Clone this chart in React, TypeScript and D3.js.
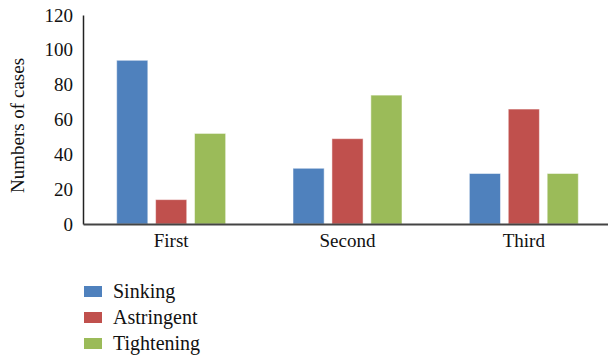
import React, { useEffect, useRef } from 'react';
import * as d3 from 'd3';

const categories = ["First", "Second", "Third"];
const seriesNames = ["Sinking", "Astringent", "Tightening"];
const sinking = [94, 32, 29];
const astringent = [14, 49, 66];
const tightening = [52, 74, 29];
const yTicks = [0, 20, 40, 60, 80, 100, 120];
const colors = ["#4F81BD", "#C0504D", "#9BBB59"];

const App = () => {
    const svgRef = useRef<SVGSVGElement>(null);

    useEffect(() => {
        document.body.style.margin = "0";
        const svg = d3.select(svgRef.current);
        svg.selectAll("*").remove();

        const width = 608;
        const height = 360;
        const marginLeft = 83;
        const marginTop = 15;
        const baseline = 224;
        const font = "Liberation Serif, DejaVu Serif, serif";

        const values = [sinking, astringent, tightening];
        const data = categories.map((c, i) => ({
            category: c,
            vals: seriesNames.map((s, j) => ({ series: s, value: values[j][i], color: colors[j] }))
        }));

        const x0 = d3.scaleBand(categories, [marginLeft, 612]).paddingInner(0.382).paddingOuter(0.191);
        const x1 = d3.scaleBand(seriesNames, [0, x0.bandwidth()]).paddingInner(0.2);
        const y = d3.scaleLinear([0, 120], [baseline, marginTop]);

        svg.attr("width", width)
            .attr("height", height)
            .attr("viewBox", [0, 0, width, height])
            .style("display", "block");

        // bars
        svg.append("g")
            .selectAll("g")
            .data(data)
            .join("g")
            .attr("transform", d => `translate(${x0(d.category)},0)`)
            .selectAll("rect")
            .data(d => d.vals)
            .join("rect")
            .attr("x", d => x1(d.series)!)
            .attr("y", d => y(d.value))
            .attr("width", x1.bandwidth())
            .attr("height", d => baseline - y(d.value))
            .attr("fill", d => d.color)
            .attr("stroke", "#fff")
            .attr("stroke-opacity", 0.5)
            .attr("stroke-width", 1);

        // y axis
        svg.append("g")
            .attr("transform", `translate(${marginLeft},0)`)
            .call(d3.axisLeft(y).tickValues(yTicks).tickSize(0).tickPadding(10))
            .attr("font-family", null)
            .call(g => g.select(".domain").attr("stroke", "#222").attr("stroke-width", 1.5))
            .call(g => g.selectAll(".tick text")
                .style("font-family", font)
                .style("font-size", "19px")
                .attr("fill", "#111"));

        // x axis
        svg.append("g")
            .attr("transform", `translate(0,${baseline})`)
            .call(d3.axisBottom(x0).tickSize(0).tickPadding(10))
            .attr("font-family", null)
            .call(g => g.select(".domain").attr("stroke", "#444").attr("stroke-width", 2))
            .call(g => g.selectAll(".tick text")
                .style("font-family", font)
                .style("font-size", "19px")
                .attr("fill", "#111"));

        svg.append("text")
            .attr("transform", `translate(24,${(marginTop + baseline) / 2 + 6}) rotate(-90)`)
            .attr("text-anchor", "middle")
            .style("font-family", font)
            .style("font-size", "19px")
            .attr("fill", "#111")
            .text("Numbers of cases");

        // legend
        const legend = svg.append("g")
            .selectAll("g")
            .data(seriesNames)
            .join("g")
            .attr("transform", (d, i) => `translate(84,${292 + i * 26})`);

        legend.append("rect")
            .attr("x", 0)
            .attr("y", -6)
            .attr("width", 18)
            .attr("height", 11)
            .attr("fill", (d, i) => colors[i]);

        legend.append("text")
            .attr("x", 29)
            .attr("y", 6)
            .style("font-family", font)
            .style("font-size", "20px")
            .attr("fill", "#111")
            .text(d => d);
    }, []);

    return <svg ref={svgRef} />;
};

export default App;
